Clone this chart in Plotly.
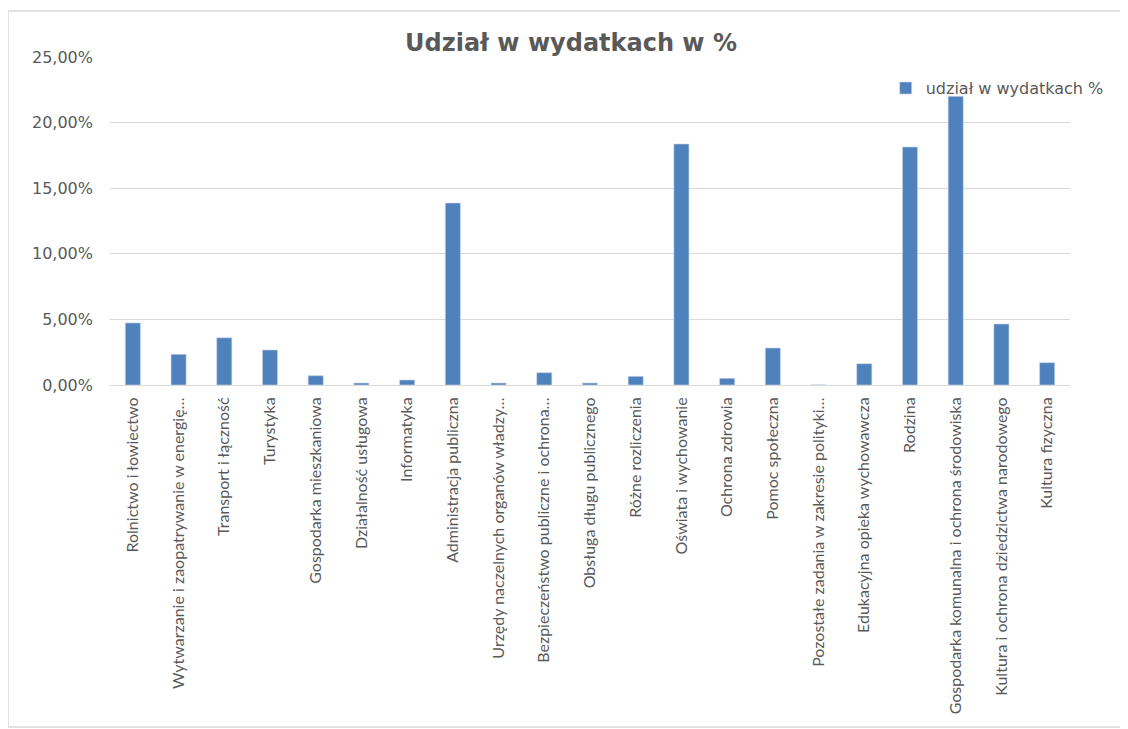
import plotly.graph_objects as go

categories = [
    "Rolnictwo i łowiectwo",
    "Wytwarzanie i zaopatrywanie w energię…",
    "Transport i łączność",
    "Turystyka",
    "Gospodarka mieszkaniowa",
    "Działalność usługowa",
    "Informatyka",
    "Administracja publiczna",
    "Urzędy naczelnych organów władzy…",
    "Bezpieczeństwo publiczne i ochrona…",
    "Obsługa długu publicznego",
    "Różne rozliczenia",
    "Oświata i wychowanie",
    "Ochrona zdrowia",
    "Pomoc społeczna",
    "Pozostałe zadania w zakresie polityki…",
    "Edukacyjna opieka wychowawcza",
    "Rodzina",
    "Gospodarka komunalna i ochrona środowiska",
    "Kultura i ochrona dziedzictwa narodowego",
    "Kultura fizyczna",
]
share_pct = [4.73, 2.34, 3.60, 2.67, 0.71, 0.15, 0.38, 13.87, 0.15, 0.94, 0.15,
             0.66, 18.37, 0.51, 2.82, 0.01, 1.62, 18.14, 22.00, 4.65, 1.70]
series_name = "udział w wydatkach %"
y_ticks = [0, 5, 10, 15, 20, 25]
y_tick_labels = ["0,00%", "5,00%", "10,00%", "15,00%", "20,00%", "25,00%"]

TXT = "#595959"
BAR = "#4f81bd"
LABEL_FONT = "Lato, Carlito, Calibri, sans-serif"
WIDE_FONT = "DejaVu Sans, Verdana, sans-serif"

fig = go.Figure()
fig.add_trace(go.Bar(
    x=categories, y=share_pct, name=series_name,
    marker=dict(color=BAR, line=dict(color="#c9d7ea", width=0.6)),
    showlegend=True,
))

fig.update_layout(
    width=1120, height=721,
    paper_bgcolor="white", plot_bgcolor="white",
    margin=dict(l=102, r=58, t=49, b=344),
    bargap=0.67,
    title=dict(text="<b>Udział w wydatkach w %</b>", x=(571 - 8) / 1120, xanchor="center",
               y=1 - 35 / 721, yanchor="middle",
               font=dict(family=WIDE_FONT, size=24, color=TXT)),
    legend=dict(x=0.808, y=0.905, xanchor="left", yanchor="middle",
                font=dict(family=WIDE_FONT, size=16, color=TXT),
                bgcolor="rgba(0,0,0,0)"),
    showlegend=True,
    font=dict(family=LABEL_FONT, color=TXT),
)
fig.update_xaxes(
    tickangle=-90, tickfont=dict(family=LABEL_FONT, size=16, color=TXT),
    showgrid=False, showline=True, linecolor="#d9d9d9", linewidth=1,
    ticks="", ticklen=0, ticklabelstandoff=5,
)
fig.update_yaxes(
    range=[0, 25], tickvals=y_ticks, ticktext=y_tick_labels,
    tickfont=dict(family=WIDE_FONT, size=16, color=TXT),
    showgrid=True, gridcolor="#d9d9d9", gridwidth=1, zeroline=False,
    showline=False, ticks="", ticklabelstandoff=16,
)
# outer chart border
fig.add_shape(type="rect", xref="paper", yref="paper",
              x0=-102 / 960, x1=(1125 - 110) / 960, y0=(385 - 727) / 328, y1=(385 - 11) / 328,
              line=dict(color="#d9d9d9", width=1.5), fillcolor="rgba(0,0,0,0)", layer="below")

fig.write_html("out.html")
